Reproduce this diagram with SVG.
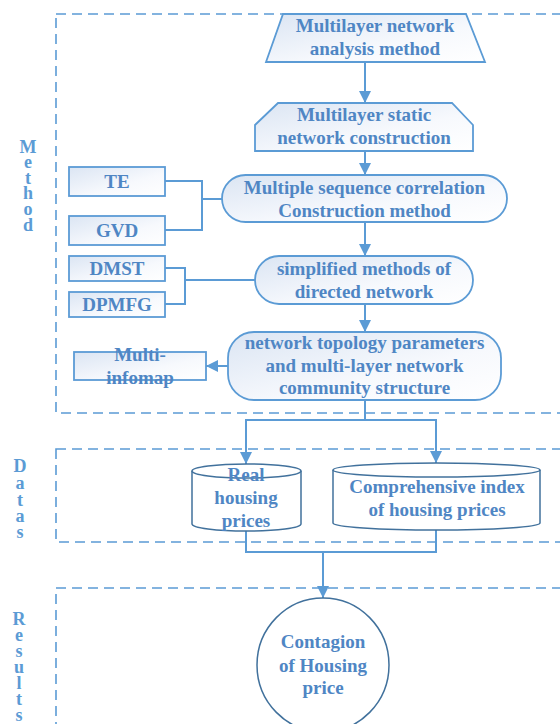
<svg xmlns="http://www.w3.org/2000/svg" width="560" height="724" viewBox="0 0 560 724">
<defs>
<linearGradient id="g" x1="0" y1="0" x2="1" y2="1">
<stop offset="0" stop-color="#dbe5f3"/>
<stop offset="0.6" stop-color="#f7f9fd"/>
<stop offset="1" stop-color="#ffffff"/>
</linearGradient>
<marker id="ah" viewBox="0 0 12 12" refX="12" refY="6" markerWidth="12" markerHeight="12" markerUnits="userSpaceOnUse" orient="auto">
<path d="M0,0 L12,6 L0,12 Z" fill="#5b9bd5"/>
</marker>
<style>
.box{fill:url(#g);stroke:#5b9bd5;stroke-width:1.8}
.cyl{fill:#ffffff;stroke:#41719c;stroke-width:1.5}
.dash{fill:none;stroke:#5b9bd5;stroke-width:1.6;stroke-dasharray:10 6}
.ln{fill:none;stroke:#5b9bd5;stroke-width:2}
.t{font-family:"Liberation Serif","Times New Roman",serif;font-weight:bold;font-size:19px;fill:#4f86c4;text-anchor:middle}
.side{font-family:"Liberation Serif","Times New Roman",serif;font-weight:bold;font-size:18px;fill:#5b9bd5;text-anchor:middle}
</style>
</defs>

<g id="sections">
<rect class="dash" x="56" y="14" width="520" height="399"/>
<rect class="dash" x="56" y="449" width="520" height="93"/>
<rect class="dash" x="56" y="588" width="520" height="160"/>
<text class="side" x="28 28 28 28 28 28" y="153 168 184 199 215 231">Method</text>
<text class="side" x="20 20 20 20 20" y="472 489 506 522 538">Datas</text>
<text class="side" x="19 19 19 19 19 19 19" y="625 641 657 673 689 705 721">Results</text>
</g>

<g id="connectors">
<line class="ln" x1="365" y1="62" x2="365" y2="103" marker-end="url(#ah)"/>
<line class="ln" x1="365" y1="151" x2="365" y2="175" marker-end="url(#ah)"/>
<line class="ln" x1="365" y1="222" x2="365" y2="256" marker-end="url(#ah)"/>
<line class="ln" x1="365" y1="304" x2="365" y2="332" marker-end="url(#ah)"/>
<polyline class="ln" points="165,181 202,181 202,230 165,230"/>
<line class="ln" x1="202" y1="199" x2="222" y2="199"/>
<polyline class="ln" points="165,268 185,268 185,304 165,304"/>
<line class="ln" x1="185" y1="280" x2="255" y2="280"/>
<line class="ln" x1="228" y1="366" x2="206" y2="366" marker-end="url(#ah)"/>
<line class="ln" x1="365" y1="400" x2="365" y2="420"/>
<line class="ln" x1="246" y1="420" x2="436" y2="420"/>
<line class="ln" x1="246" y1="419" x2="246" y2="464" marker-end="url(#ah)"/>
<line class="ln" x1="436" y1="419" x2="436" y2="463" marker-end="url(#ah)"/>
<polyline class="ln" points="246,531 246,552 436,552 436,530"/>
<line class="ln" x1="323" y1="552" x2="323" y2="598" marker-end="url(#ah)"/>
</g>

<g id="n1">
<polygon class="box" points="283,14 466,14 485,62 266,62"/>
<text class="t"><tspan x="375" y="32">Multilayer network</tspan><tspan x="375" y="55">analysis method</tspan></text>
</g>
<g id="n2">
<polygon class="box" points="278,103 452,103 473,125 473,151 255,151 255,125"/>
<text class="t"><tspan x="364" y="121">Multilayer static</tspan><tspan x="364" y="144">network construction</tspan></text>
</g>
<g id="n3">
<rect class="box" x="222" y="175" width="285" height="47" rx="23.5" ry="23.5"/>
<text class="t"><tspan x="364.5" y="194">Multiple sequence correlation</tspan><tspan x="364.5" y="217">Construction method</tspan></text>
</g>
<g id="n4">
<rect class="box" x="255" y="256" width="218" height="48" rx="24" ry="24"/>
<text class="t"><tspan x="364" y="275">simplified methods of</tspan><tspan x="364" y="298">directed network</tspan></text>
</g>
<g id="n5">
<rect class="box" x="228" y="332" width="273" height="68" rx="26" ry="26"/>
<text class="t"><tspan x="364.5" y="349">network topology parameters</tspan><tspan x="364.5" y="372">and multi-layer network</tspan><tspan x="364.5" y="394">community structure</tspan></text>
</g>
<g id="te">
<rect class="box" x="69" y="167" width="96" height="29"/>
<text class="t" x="117" y="188">TE</text>
</g>
<g id="gvd">
<rect class="box" x="69" y="216" width="96" height="29"/>
<text class="t" x="117" y="237">GVD</text>
</g>
<g id="dmst">
<rect class="box" x="69" y="256" width="96" height="25"/>
<text class="t" x="117" y="275">DMST</text>
</g>
<g id="dpmfg">
<rect class="box" x="69" y="292" width="96" height="25"/>
<text class="t" x="117" y="311">DPMFG</text>
</g>
<g id="infomap">
<rect class="box" x="74" y="352" width="132" height="28"/>
<text class="t"><tspan x="140" y="361">Multi-</tspan><tspan x="140" y="384">infomap</tspan></text>
</g>
<g id="real">
<path class="cyl" d="M192,471 A54.5,7 0 0 1 301,471 L301,524 A54.5,7 0 0 1 192,524 Z"/>
<path class="cyl" d="M192,471 A54.5,7 0 0 0 301,471" fill="none"/>
<text class="t"><tspan x="246" y="481">Real</tspan><tspan x="246" y="504">housing</tspan><tspan x="246" y="527">prices</tspan></text>
</g>
<g id="index">
<path class="cyl" d="M333,470 A103.5,7 0 0 1 540,470 L540,523 A103.5,7 0 0 1 333,523 Z"/>
<path class="cyl" d="M333,470 A103.5,7 0 0 0 540,470" fill="none"/>
<text class="t"><tspan x="437" y="493">Comprehensive index</tspan><tspan x="437" y="516">of housing prices</tspan></text>
</g>
<g id="contagion">
<ellipse class="cyl" cx="323" cy="665" rx="66" ry="67"/>
<text class="t"><tspan x="323" y="648">Contagion</tspan><tspan x="323" y="672">of Housing</tspan><tspan x="323" y="694">price</tspan></text>
</g>
</svg>
